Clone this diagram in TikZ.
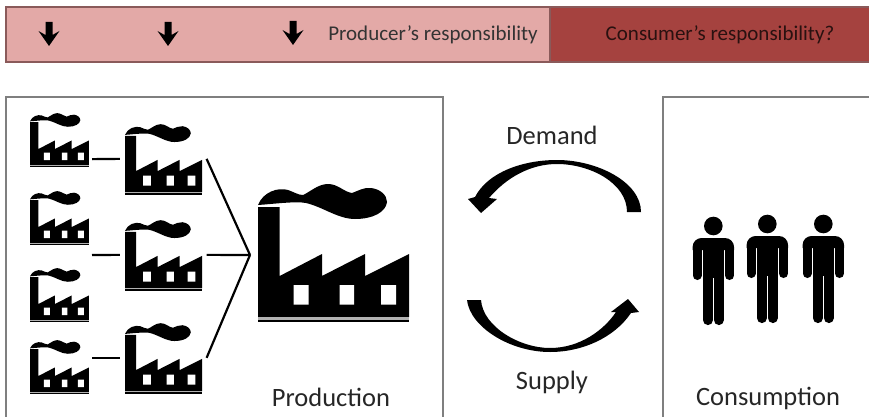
\documentclass[tikz,border=0pt]{standalone}
\usepackage{fontspec}
\setmainfont{Carlito}
\definecolor{prodred}{HTML}{E3A9A7}
\definecolor{consred}{HTML}{A5423F}
\definecolor{barline}{HTML}{8A5A5A}
\definecolor{boxline}{HTML}{7F7F7F}
\tikzset{
	boxlabel/.style={text=black!85,font=\fontsize{26.5}{27}\selectfont,inner sep=0pt},
	barlabel/.style={font=\fontsize{21}{21}\selectfont,inner sep=0pt},
	mainbox/.style={draw=boxline,line width=1.5pt},
	link/.style={line width=2.2pt,black},
	factory/.pic={
		\fill (0,0)--(0,-110)--(21.7,-110)--(21.7,-41)--(64,-63)--(64,-41)--(107,-63)--(107,-41)--(151,-63)--(151,0)--cycle;
		\fill[white] (35.7,-32) rectangle (50.7,-12.3) (81.7,-32) rectangle (96,-12.3) (123,-32) rectangle (138,-12.3);
		\fill (0,-112) .. controls (5,-125) and (20,-130) .. (30,-127) .. controls (36,-125) and (40,-122) .. (45,-122) .. controls (52,-125) and (60,-133) .. (70,-133) .. controls (80,-133) and (86,-125) .. (94,-124) .. controls (100,-126) and (106,-130) .. (113,-129) .. controls (122,-128) and (129,-122) .. (129,-115) .. controls (128,-105) and (115,-98) .. (97,-98) .. controls (80,-98) and (65,-110) .. (48,-114) .. controls (38,-116) and (15,-113) .. (0,-112);
		\fill[black!30] (0,0) rectangle (151,2.5);
		\fill (0,2.5) rectangle (151,5);
		\coordinate (-in) at (-10,-65);
		\coordinate (-out) at (160,-65);
		\coordinate (-right) at (159,-15);
	},
	person/.pic={
		\fill (0,-99) circle (9.3);
		\fill (-20.7,-75) [rounded corners=9pt] --(-20.7,-87)--(20.7,-87) [sharp corners] --(20.7,-75)--cycle;
		\fill (-10.5,-80) rectangle (10.5,-47);
		\draw[line width=9pt,line cap=round] (-16.2,-78)--(-16.2,-49.5) (16.2,-78)--(16.2,-49.5);
		\draw[line width=10.2pt,line cap=round] (-5.4,-50)--(-5.4,-5) (5.4,-50)--(5.4,-5);
	},
	downarrow/.pic={
		\fill (-3.5,0)--(3.5,0)--(3.5,13)--(10.5,9)--(0,24)--(-10.5,9)--(-3.5,13)--cycle;
	}
}
\begin{document}
\begin{tikzpicture}[x=1pt,y=-1pt]
	\useasboundingbox (0,0) rectangle (869,417);

	\draw[draw=barline,fill=prodred,line width=1.2pt] (6,7) rectangle (550,62);
	\draw[draw=barline,fill=consred,line width=1.2pt] (550,7) rectangle (871,62);
	\foreach \x/\y in {49/22,168/22,293/21}
		\pic at (\x,\y) {downarrow};
	\node (prodlabel) [barlabel,text=black!80] at (433,35) {Producer’s responsibility};
	\node (conslabel) [barlabel,text=consred!25!black] at (720,35) {Consumer’s responsibility?};

	\draw[mainbox] (6,419)--(6,97)--(443,97)--(443,419);
	\draw[mainbox] (871,97)--(663,97)--(663,419);

	\foreach \n/\y in {sa/165,sb/243,sc/320,sd/392}
		\pic (\n) [scale=0.39] at (30,\y) {factory};
	\foreach \n/\y in {ma/192,mb/288,mc/391}
		\pic (\n) [scale=0.51] at (125,\y) {factory};
	\pic (big) at (258,317) {factory};

	\coordinate (hub) at (250,255);
	\coordinate (midleft) at (92,255);
	\draw[link] (sa-right)--(ma-in);
	\draw[link] (midleft)--(mb-in);
	\draw[link] (sd-right|-mc-in)--(mc-in);
	\draw[link] (ma-out)--(hub);
	\draw[link] (mb-out)--(hub);
	\draw[link] (mc-out)--(hub);

	\fill (641,212) .. controls (641,182) and (597,160) .. (557,160) .. controls (523,160) and (488,172) .. (475,197)--(468,199)--(481,213)--(497,199)--(489,198) .. controls (506,178) and (530,164) .. (557,164) .. controls (590,164) and (627,183) .. (627,212)--cycle;
	\fill (467,300) .. controls (470,327) and (510,352) .. (550,352) .. controls (582,352) and (614,338) .. (631,313)--(639,312)--(628,299)--(611,312)--(616,312) .. controls (604,330) and (580,348) .. (550,348) .. controls (520,348) and (483,327) .. (481,300)--cycle;

	\pic at (713.3,325) {person};
	\pic at (767.3,323) {person};
	\pic at (823.3,323) {person};

	\node (demand) [boxlabel] at (552,135) {Demand};
	\node (supply) [boxlabel] at (552,382) {Supply};
	\node (production) [boxlabel] at (331,397) {Production};
	\node (consumption) [boxlabel] at (768,398) {Consumption};
\end{tikzpicture}
\end{document}
